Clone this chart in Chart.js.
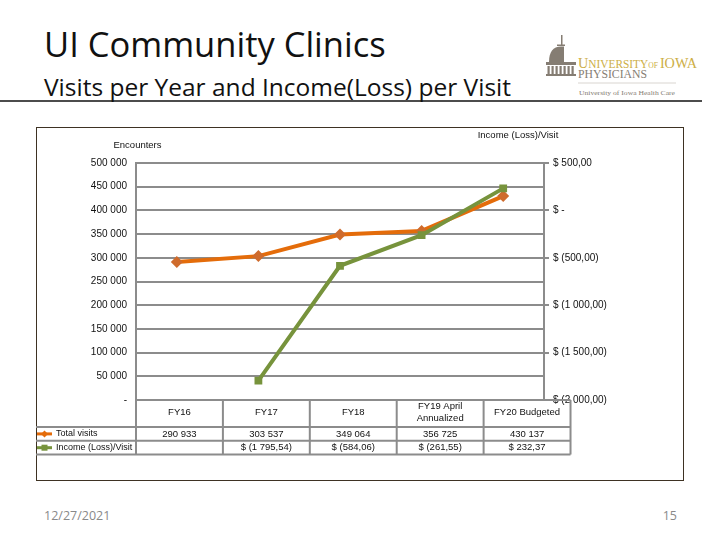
<!DOCTYPE html>
<html>
<head>
<meta charset="utf-8">
<script src="https://cdn.jsdelivr.net/npm/chart.js@4"></script>
<style>
  html, body { margin: 0; padding: 0; background: #fff; }
  #slide { position: relative; width: 720px; height: 540px; overflow: hidden; }
  #deco { position: absolute; left: 0; top: 0; }
  #frame { position: absolute; left: 36px; top: 127px; width: 648px; height: 354px;
           box-sizing: border-box; border: 1.5px solid #3e3223; }
  #c { position: absolute; left: 36px; top: 127px; }
</style>
</head>
<body>
<div id="slide">
  <svg id="deco" width="720" height="540" xmlns="http://www.w3.org/2000/svg">
    <text x="44" y="57" font-family="Open Sans" font-size="34.5" fill="#111">UI Community Clinics</text>
    <text x="44" y="96" font-family="Open Sans" font-size="24.5" fill="#111">Visits per Year and Income(Loss) per Visit</text>
    <line x1="0" y1="101" x2="702" y2="101" stroke="#111" stroke-width="1.5"/>

    <!-- logo -->
    <g fill="#857d73" stroke="none">
      <rect x="561" y="35" width="1.5" height="10"/>
      <rect x="557" y="44.5" width="8" height="1.5"/>
      <path d="M549 62 C549 52 553 46.5 561 46.5 L564 46.5 L564 62 Z"/>
      <rect x="546" y="62" width="30" height="3"/>
      <rect x="547.5" y="66" width="2.2" height="8"/>
      <rect x="551.5" y="66" width="2.2" height="8"/>
      <rect x="555.5" y="66" width="2.2" height="8"/>
      <rect x="559.5" y="66" width="2.2" height="8"/>
      <rect x="563.5" y="66" width="2.2" height="8"/>
      <rect x="567.5" y="66" width="2.2" height="8"/>
      <rect x="571.5" y="66" width="2.2" height="8"/>
      <rect x="546" y="74" width="30" height="2"/>
    </g>
    <text x="578" y="68" font-family="Liberation Serif" fill="#cdae45" textLength="119" lengthAdjust="spacingAndGlyphs"><tspan font-size="15">U</tspan><tspan font-size="12">NIVERSITY</tspan><tspan font-size="8">OF </tspan><tspan font-size="15">IOWA</tspan></text>
    <text x="578" y="78" font-family="Liberation Serif" font-size="12" fill="#857d73" textLength="69" lengthAdjust="spacingAndGlyphs">PHYSICIANS</text>
    <line x1="578" y1="83" x2="676" y2="83" stroke="#cfcac4" stroke-width="0.8"/>
    <text x="579" y="94.5" font-family="Liberation Serif" font-size="7" fill="#857d73" textLength="96" lengthAdjust="spacingAndGlyphs">University of Iowa Health Care</text>

    <text x="44" y="520" font-family="Open Sans" font-size="12.5" fill="#898989">12/27/2021</text>
    <text x="677" y="520" font-family="Open Sans" font-size="12.5" fill="#898989" text-anchor="end">15</text>
  </svg>
  <div id="frame"></div>
  <canvas id="c" width="648" height="354"></canvas>
</div>
<script>
// Chart data
const categories = [['FY16'], ['FY17'], ['FY18'], ['FY19 April', 'Annualized'], ['FY20 Budgeted']];
const totalVisits = [290933, 303537, 349064, 356725, 430137];
const incomePerVisit = [null, -1795.54, -584.06, -261.55, 232.37];
const seriesNames = ['Total visits', 'Income (Loss)/Visit'];
const visitTicks = { min: 0, max: 500000, step: 50000 };
const incomeTicks = { min: -2000, max: 500, step: 500 };

const ORANGE = '#e46c0a';
const GREEN = '#77933c';
const GRID = '#8c8c8c';

const group = (s) => s.replace(/\B(?=(\d{3})+(?!\d))/g, ' ');

const fmtVisits = (v) => v === 0 ? '-' : group(String(Math.round(v)));

const fmtMoney = (v) => {
  if (v === null || v === undefined) return '';
  if (v === 0) return '$ -';
  const [i, d] = Math.abs(v).toFixed(2).split('.');
  const s = group(i) + ',' + d;
  return v < 0 ? '$ (' + s + ')' : '$ ' + s;
};

// Data table under the plot + axis titles
const dataTable = {
  id: 'dataTable',
  afterDraw(chart) {
    const { ctx, chartArea: a } = chart;
    const n = categories.length;
    const colW = a.width / n * 1.065;
    const top = a.bottom, catH = 27, rowH = 13.8;
    const right = a.left + colW * n;
    const rows = [top + catH, top + catH + rowH, top + catH + 2 * rowH];

    ctx.save();
    ctx.strokeStyle = GRID;
    ctx.lineWidth = 2;
    ctx.beginPath();
    ctx.moveTo(a.left, top); ctx.lineTo(right, top);
    rows.forEach(y => { ctx.moveTo(0, y); ctx.lineTo(right, y); });
    for (let i = 0; i <= n; i++) {
      const x = a.left + i * colW;
      ctx.moveTo(x, top); ctx.lineTo(x, rows[2]);
    }
    ctx.stroke();

    ctx.fillStyle = '#111';
    ctx.font = '9.5px "Liberation Sans"';
    ctx.textAlign = 'center';
    ctx.textBaseline = 'middle';
    categories.forEach((lines, i) => {
      const cx = a.left + (i + 0.5) * colW;
      const cy = top + catH / 2 - 1;
      lines.forEach((t, k) => ctx.fillText(t, cx, cy + (k - (lines.length - 1) / 2) * 11.6));
      ctx.fillText(fmtVisits(totalVisits[i]), cx, rows[0] + rowH / 2);
      ctx.fillText(fmtMoney(incomePerVisit[i]), cx, rows[1] + rowH / 2);
    });

    // legend keys in the row headers
    ctx.font = '9px "Liberation Sans"';
    [[ORANGE, 'rectRot'], [GREEN, 'rect']].forEach(([col, shape], r) => {
      const y = rows[r] + rowH / 2;
      ctx.strokeStyle = col;
      ctx.lineWidth = 3;
      ctx.beginPath(); ctx.moveTo(1, y); ctx.lineTo(16, y); ctx.stroke();
      ctx.fillStyle = col;
      ctx.beginPath();
      if (shape === 'rectRot') {
        ctx.moveTo(8.5, y - 3.5); ctx.lineTo(12, y); ctx.lineTo(8.5, y + 3.5); ctx.lineTo(5, y);
        ctx.closePath(); ctx.fill();
      } else {
        ctx.fillRect(5.5, y - 3, 6, 6);
      }
      ctx.fillStyle = '#111';
      ctx.textAlign = 'left';
      ctx.fillText(seriesNames[r], 20, y);
    });

    ctx.font = '9.5px "Liberation Sans"';
    ctx.textAlign = 'center';
    ctx.fillText('Encounters', a.left + 1.5, 18);
    ctx.fillText('Income (Loss)/Visit', a.right - 26, 8);
    ctx.restore();
  }
};

Chart.defaults.font.family = '"Liberation Sans", Arial, sans-serif';
Chart.defaults.font.size = 10;
Chart.defaults.color = '#111';

new Chart(document.getElementById('c'), {
  type: 'line',
  data: {
    labels: categories,
    datasets: [
      {
        label: seriesNames[0],
        data: totalVisits,
        yAxisID: 'y',
        borderColor: ORANGE,
        backgroundColor: '#cf6b2c',
        borderWidth: 4,
        pointStyle: 'rectRot',
        pointRadius: 6,
        pointBorderWidth: 0,
        tension: 0,
        order: 2
      },
      {
        label: seriesNames[1],
        data: incomePerVisit,
        yAxisID: 'y1',
        borderColor: GREEN,
        backgroundColor: GREEN,
        borderWidth: 4,
        pointStyle: 'rect',
        pointRadius: 5.5,
        pointBorderWidth: 0,
        spanGaps: false,
        tension: 0,
        order: 1
      }
    ]
  },
  options: {
    responsive: false,
    animation: false,
    layout: { padding: { top: 36, bottom: 81, left: 0, right: 0 } },
    plugins: { legend: { display: false }, tooltip: { enabled: false } },
    scales: {
      x: { display: false, offset: true },
      y: {
        position: 'left',
        min: visitTicks.min,
        max: visitTicks.max,
        ticks: { stepSize: visitTicks.step, padding: 9, callback: (v) => fmtVisits(v) },
        grid: { color: GRID, lineWidth: 2, drawTicks: false },
        border: { display: true, color: GRID, width: 2 },
        afterFit(s) { s.width = 100; }
      },
      y1: {
        position: 'right',
        min: incomeTicks.min,
        max: incomeTicks.max,
        ticks: { stepSize: incomeTicks.step, padding: 4, callback: (v) => fmtMoney(v) },
        grid: { drawOnChartArea: false, color: GRID, lineWidth: 2, tickLength: 5 },
        border: { display: true, color: GRID, width: 2 },
        afterFit(s) { s.width = 140; }
      }
    }
  },
  plugins: [dataTable]
});
</script>
</body>
</html>
